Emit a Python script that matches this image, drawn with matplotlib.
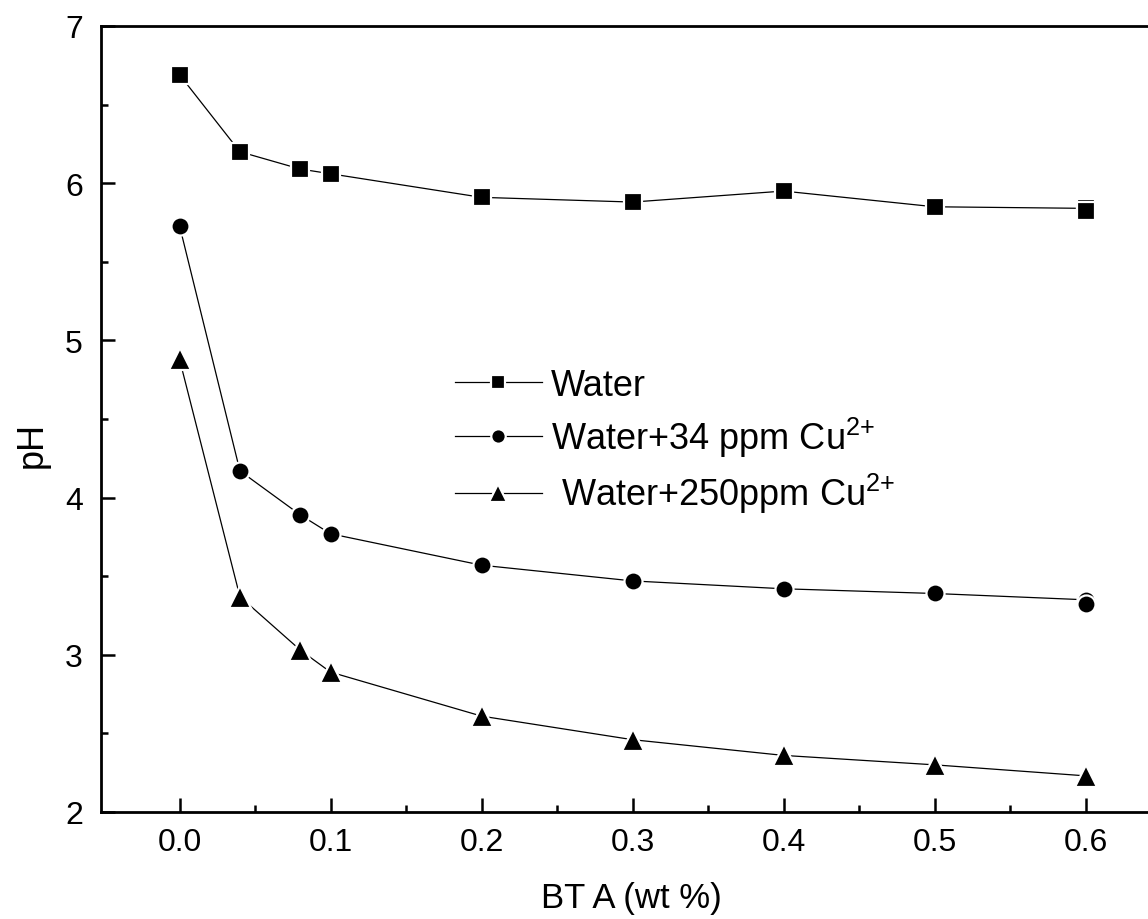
"""pH of water / Cu2+ solutions against BTA content."""

import matplotlib
matplotlib.use("Agg")
import matplotlib.pyplot as plt

plt.rcParams['font.family'] = ['Liberation Sans', 'DejaVu Sans']
plt.rcParams['mathtext.fontset'] = 'custom'
plt.rcParams['mathtext.rm'] = 'Liberation Sans'
plt.rcParams['mathtext.it'] = 'Liberation Sans:italic'

# BTA content (wt %); the last point is measured twice
bta = [0.0, 0.04, 0.08, 0.1, 0.2, 0.3, 0.4, 0.5, 0.6, 0.6]
ph_water = [6.69, 6.20, 6.09, 6.06, 5.91, 5.88, 5.95, 5.85, 5.84, 5.82]
ph_cu34 = [5.73, 4.17, 3.89, 3.77, 3.57, 3.47, 3.42, 3.39, 3.35, 3.32]

bta_cu250 = [0.0, 0.04, 0.08, 0.1, 0.2, 0.3, 0.4, 0.5, 0.6]
ph_cu250 = [4.88, 3.37, 3.03, 2.89, 2.61, 2.46, 2.36, 2.30, 2.23]

labels = ["Water", "Water+34 ppm Cu$^{2{+}}$", " Water+250ppm Cu$^{2{+}}$"]

fig = plt.figure(figsize=(11.48, 9.2), dpi=100)
ax = fig.add_axes([101 / 1148, 1 - 813 / 920, 1060 / 1148, 786 / 920])

style = dict(color='black', linewidth=0.9, markeredgecolor='white',
             markeredgewidth=1.6)
ax.plot(bta, ph_water, marker='s', markersize=12.5, label=labels[0], **style)
ax.plot(bta, ph_cu34, marker='o', markersize=13, label=labels[1], **style)
ax.plot(bta_cu250, ph_cu250, marker='^', markersize=15.5, label=labels[2], **style)

ax.set_xlim(-0.052, 0.65)
ax.set_ylim(2, 7)
ax.set_xticks([0.0, 0.1, 0.2, 0.3, 0.4, 0.5, 0.6])
ax.set_xticks([0.05, 0.15, 0.25, 0.35, 0.45, 0.55], minor=True)
ax.set_yticks([2, 3, 4, 5, 6, 7])
ax.set_yticks([2.5, 3.5, 4.5, 5.5, 6.5], minor=True)
ax.xaxis.set_major_formatter(plt.FormatStrFormatter('%.1f'))

for side in ['left', 'bottom', 'top']:
    ax.spines[side].set_linewidth(2.0)
ax.spines['right'].set_visible(False)

ax.tick_params(which='both', direction='in', width=1.8, top=False, right=False)
ax.tick_params(which='major', length=10, labelsize=23)
ax.tick_params(which='minor', length=5)
ax.tick_params(axis='x', which='major', pad=11)
ax.tick_params(axis='y', which='major', pad=13)

ax.set_xlabel("BT A (wt %)", fontsize=25)
ax.set_ylabel("pH", fontsize=26)
ax.xaxis.set_label_coords(0.5, -0.088)
ax.yaxis.set_label_coords(-0.048, 0.468)

ax.legend(loc='upper left', bbox_to_anchor=(455 / 1148, 1 - 369 / 920),
          bbox_transform=fig.transFigure, frameon=False, fontsize=26,
          handlelength=2.4, handletextpad=0.25, labelspacing=0.33,
          borderpad=0, borderaxespad=0, markerscale=0.8)

fig.savefig("out.png", dpi=100)
